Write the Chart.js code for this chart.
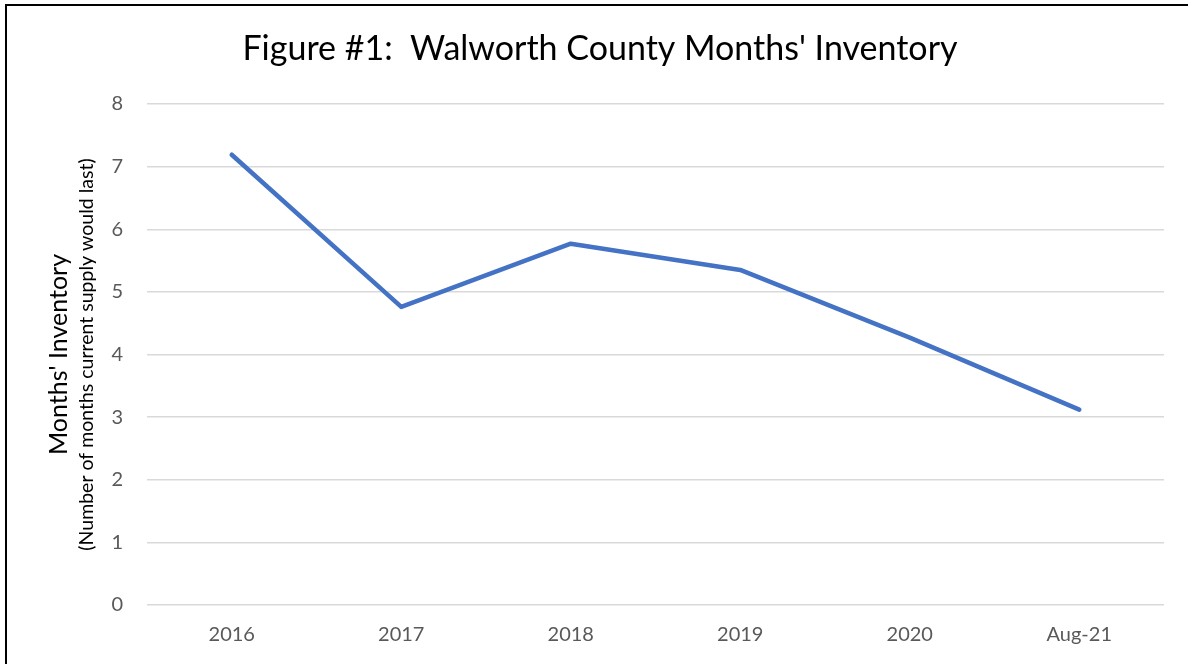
<!DOCTYPE html>
<html>
<head>
<meta charset="utf-8">
<script src="https://cdn.jsdelivr.net/npm/chart.js@4"></script>
<style>
  html, body { margin: 0; padding: 0; background: #fff; overflow: hidden; }
  #frame { position: absolute; left: 5px; top: 4px; width: 2000px; height: 2000px;
           border-left: 2px solid #000; border-top: 2px solid #000; }
  #wrap { position: absolute; left: 0; top: 0; width: 1188px; height: 664px; }
</style>
</head>
<body>
<div id="frame"></div>
<div id="wrap"><canvas id="chart" width="1188" height="664"></canvas></div>
<script>
// data
var labels = ['2016', '2017', '2018', '2019', '2020', 'Aug-21'];
var inventory = [7.19, 4.76, 5.77, 5.35, 4.27, 3.12];
var yTicks = [0, 1, 2, 3, 4, 5, 6, 7, 8];

var title_text = "Figure #1:  Walworth County Months' Inventory";
var y_title = "Months' Inventory";
var y_sub = "(Number of months current supply would last)";
var font_face = "Lato, 'Open Sans', sans-serif";

// chart title + two line y axis title with different sizes
var textPlugin = {
    id: 'texts',
    afterDraw: function (chart)
    {
        var ctx = chart.ctx;
        var a = chart.chartArea;
        var cy = (a.top + a.bottom) / 2;

        ctx.save();
        ctx.textAlign = 'center';
        ctx.textBaseline = 'middle';
        ctx.fillStyle = '#000';
        ctx.font = '34px ' + font_face;
        ctx.fillText(title_text, 600, 49);
        ctx.restore();

        // rotated -90deg: baseline sits on the right side of the glyphs
        ctx.save();
        ctx.textAlign = 'center';
        ctx.textBaseline = 'alphabetic';
        ctx.fillStyle = '#000';
        ctx.translate(67, cy);
        ctx.rotate(-Math.PI / 2);
        ctx.font = '25px ' + font_face;
        ctx.fillText(y_title, 0, 0);
        ctx.restore();

        ctx.save();
        ctx.textAlign = 'center';
        ctx.textBaseline = 'alphabetic';
        ctx.fillStyle = '#000';
        ctx.translate(93, cy);
        ctx.rotate(-Math.PI / 2);
        ctx.font = '19.5px ' + font_face;
        ctx.fillText(y_sub, 0, 0);
        ctx.restore();
    }
};

var m_chart = new Chart(document.getElementById('chart'), {
    type: 'line',
    data: {
        labels: labels,
        datasets: [
            {
                label: 'Months Inventory',
                data: inventory,
                borderColor: '#4472C4',
                borderWidth: 4.5,
                borderCapStyle: 'round',
                borderJoinStyle: 'round',
                pointRadius: 0,
                tension: 0,
                fill: false
            }
        ]
    },
    options: {
        responsive: false,
        animation: false,
        layout: { padding: { left: 0, right: 24, top: 104, bottom: 0 } },
        plugins: {
            legend: { display: false },
            tooltip: { enabled: false },
            title: { display: false }
        },
        scales: {
            x: {
                offset: true,
                afterFit: function (scale) { scale.height = 59; },
                grid: { display: false },
                border: { display: false },
                ticks: {
                    color: '#595959',
                    font: { family: font_face, size: 20 },
                    padding: 10,
                    maxRotation: 0
                }
            },
            y: {
                min: 0,
                max: 8,
                afterFit: function (scale) { scale.width = 147; },
                afterBuildTicks: function (scale)
                {
                    scale.ticks = yTicks.map(function (v) { return { value: v }; });
                },
                grid: { color: '#d9d9d9', lineWidth: 1.5, drawTicks: false },
                border: { display: false },
                ticks: {
                    color: '#595959',
                    font: { family: font_face, size: 20 },
                    padding: 24
                }
            }
        }
    },
    plugins: [textPlugin]
});
</script>
</body>
</html>
